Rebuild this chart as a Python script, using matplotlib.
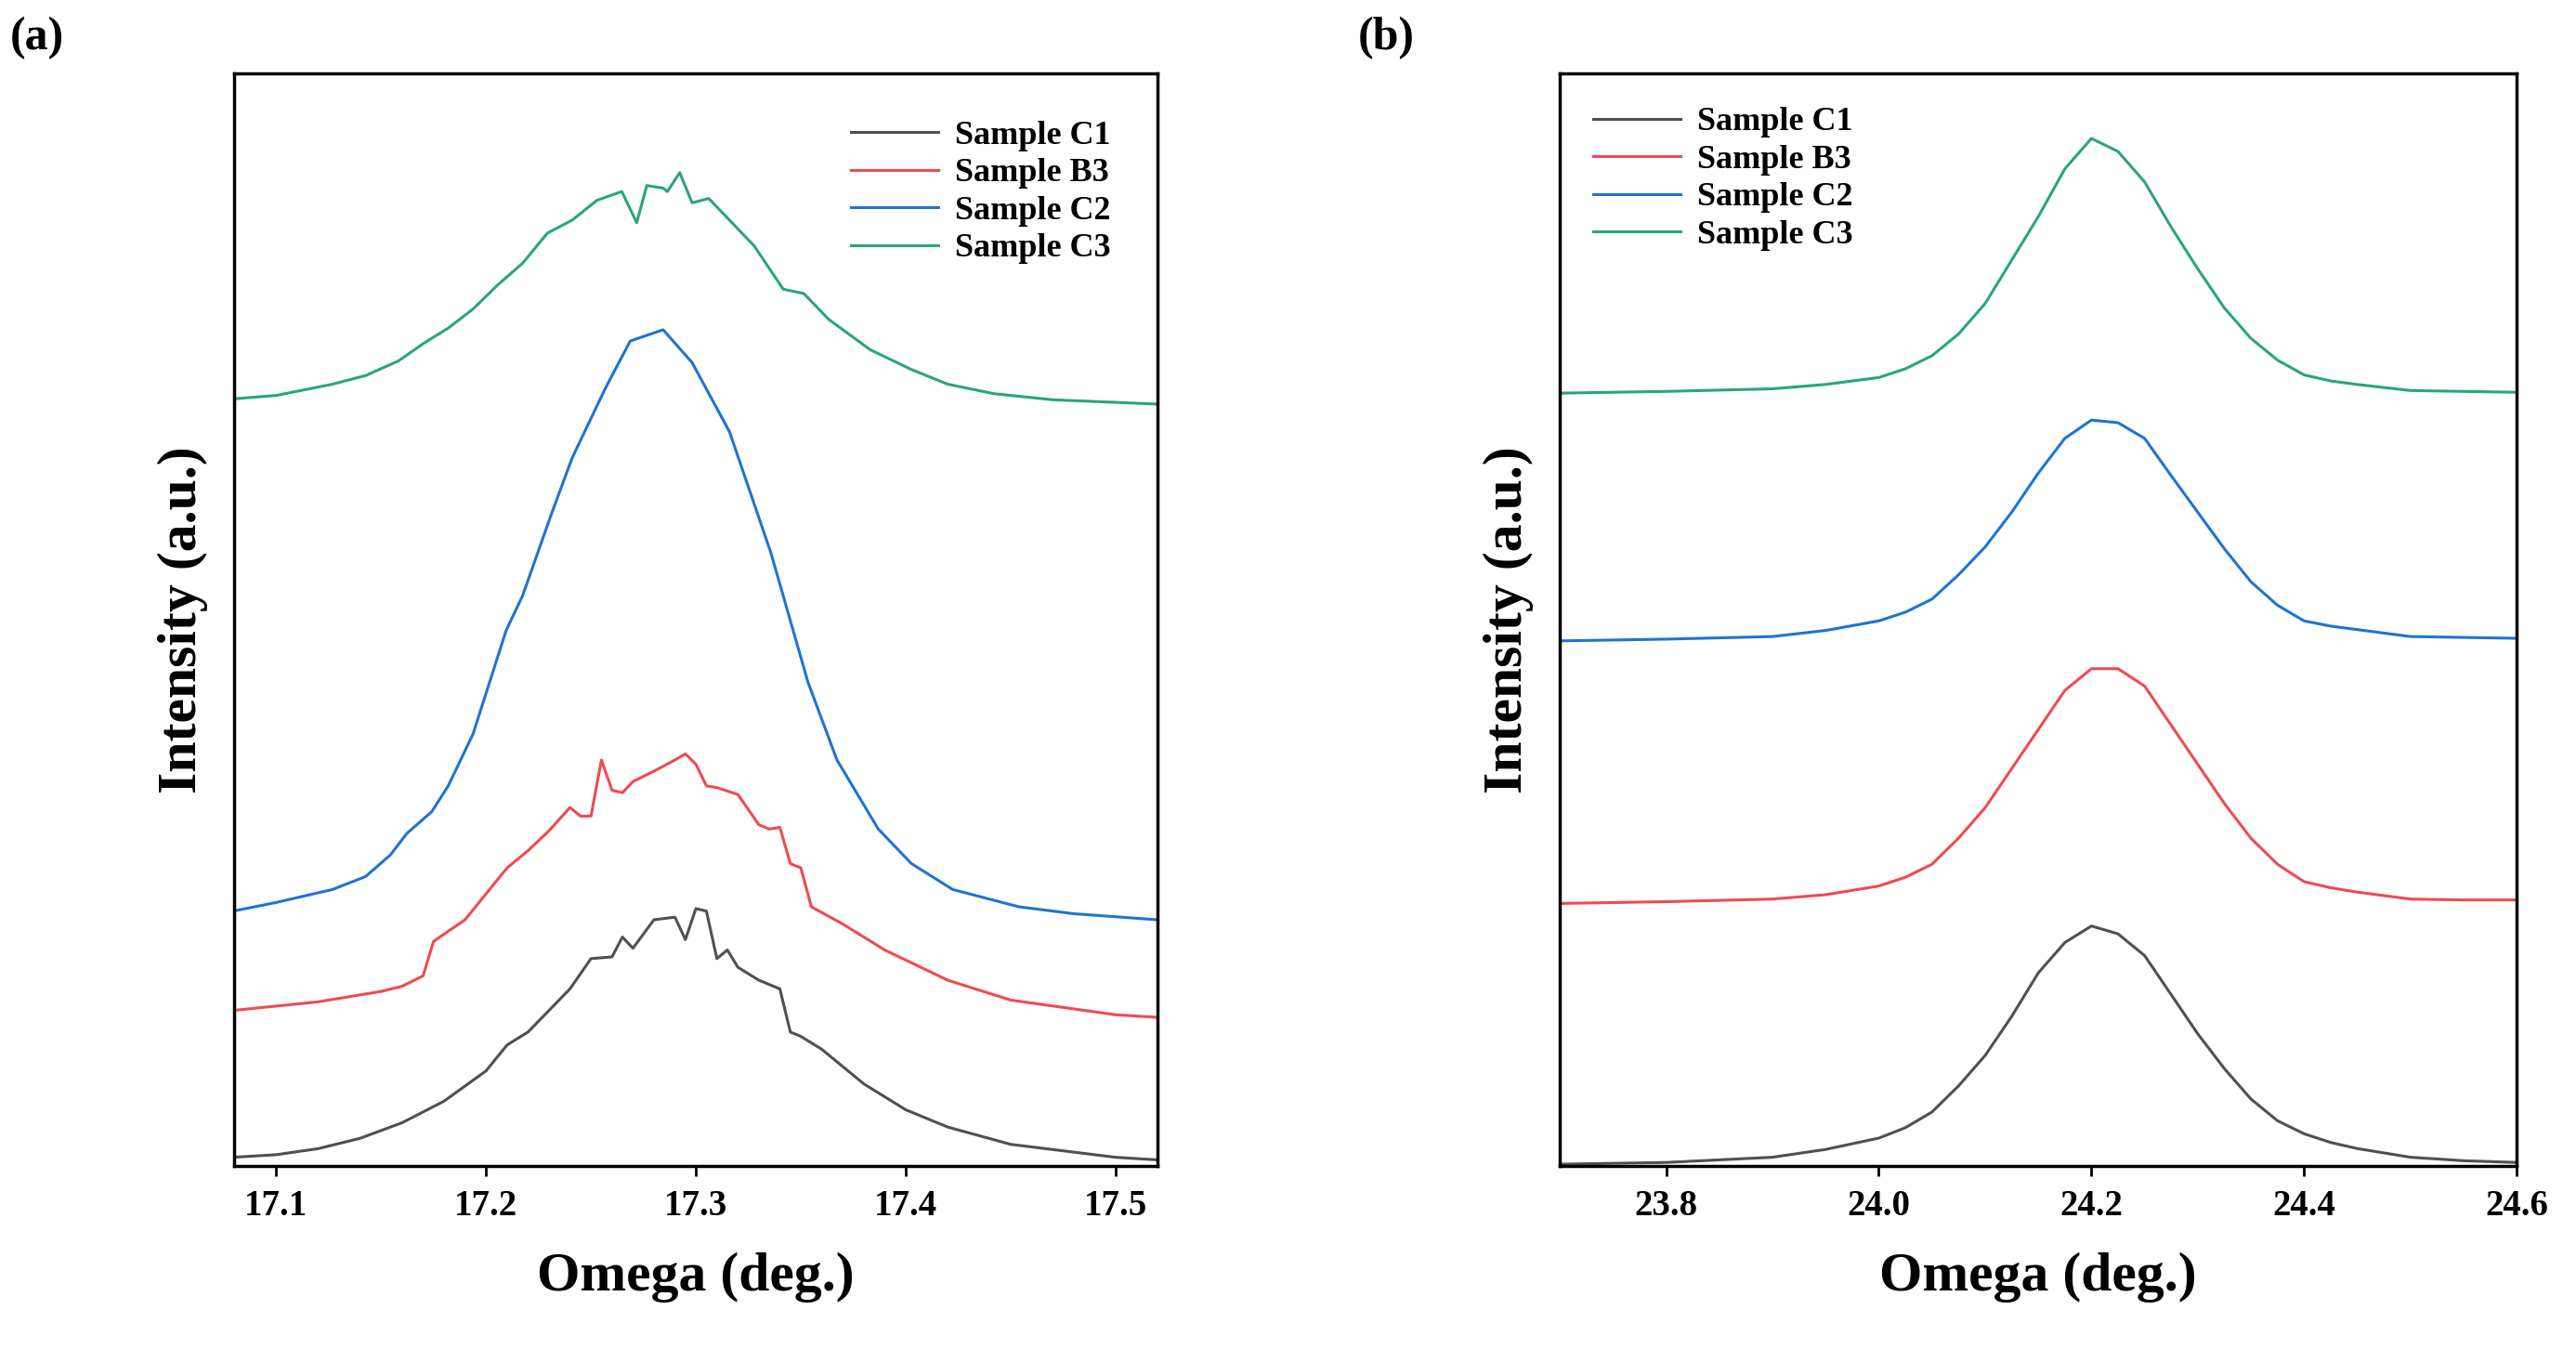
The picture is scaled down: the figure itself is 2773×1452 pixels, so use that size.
import numpy as np
import matplotlib
matplotlib.use("Agg")
import matplotlib.pyplot as plt

plt.rcParams["font.family"] = ["Liberation Serif", "DejaVu Serif"]
plt.rcParams["font.weight"] = "bold"

labels = ["Sample C1", "Sample B3", "Sample C2", "Sample C3"]
colors = ["#505050", "#f04a50", "#1f74d0", "#2aa57a"]

a_c1_x = [17.0795, 17.1, 17.12, 17.14, 17.16, 17.18, 17.2, 17.21, 17.22, 17.23, 17.24, 17.25, 17.26, 17.265,
          17.27, 17.28, 17.29, 17.295, 17.30, 17.305, 17.31, 17.315, 17.32, 17.33, 17.34, 17.345, 17.35, 17.36,
          17.38, 17.40, 17.42, 17.45, 17.5, 17.52]
a_c1_y = [1340, 1337, 1330, 1318, 1300, 1275, 1240, 1210, 1195, 1170, 1145, 1110, 1108, 1085,
          1098, 1065, 1062, 1088, 1052, 1055, 1110, 1100, 1120, 1135, 1145, 1195, 1200, 1215,
          1255, 1285, 1305, 1325, 1340, 1343]
a_b3_x = [17.0795, 17.12, 17.15, 17.16, 17.17, 17.175, 17.19, 17.2, 17.21, 17.22, 17.23, 17.24, 17.245, 17.25,
          17.255, 17.26, 17.265, 17.27, 17.28, 17.29, 17.295, 17.30, 17.305, 17.31, 17.32, 17.33, 17.335, 17.34,
          17.345, 17.35, 17.355, 17.37, 17.39, 17.42, 17.45, 17.5, 17.52]
a_b3_y = [1170, 1160, 1148, 1142, 1130, 1090, 1065, 1035, 1005, 985, 962, 935, 945, 945,
          880, 915, 918, 905, 893, 880, 873, 885, 910, 912, 920, 955, 960, 958,
          1000, 1005, 1050, 1070, 1100, 1135, 1158, 1175, 1178]
a_c2_x = [17.0795, 17.1, 17.1268, 17.1426, 17.1544, 17.1623, 17.1741, 17.182, 17.1938, 17.2017, 17.2096,
          17.2174, 17.2312, 17.2411, 17.2568, 17.2687, 17.2844, 17.2982, 17.316, 17.3357, 17.3534, 17.3672,
          17.3869, 17.4027, 17.4224, 17.4539, 17.48, 17.5197]
a_c2_y = [1055, 1045, 1030, 1015, 990, 965, 940, 910, 850, 790, 730, 690, 595, 530, 450, 395, 382, 420,
          500, 640, 790, 880, 960, 1000, 1030, 1050, 1058, 1065]
a_c3_x = [17.0795, 17.1, 17.1268, 17.1426, 17.1583, 17.1701, 17.182, 17.1938, 17.2056, 17.2174, 17.2293,
          17.2411, 17.2529, 17.2647, 17.2718, 17.2766, 17.2844, 17.2864, 17.2923, 17.2982, 17.3061, 17.316,
          17.3278, 17.3416, 17.3514, 17.3633, 17.383, 17.4027, 17.42, 17.4421, 17.47, 17.5197]
a_c3_y = [462, 458, 445, 435, 418, 398, 380, 358, 330, 305, 270, 255, 232, 222, 258, 215, 218, 222, 200,
          235, 230, 255, 285, 335, 340, 370, 405, 428, 445, 456, 463, 468]

b_x = [23.7, 23.8, 23.9, 23.95, 24.0, 24.025, 24.05, 24.075, 24.1, 24.125, 24.15, 24.175, 24.2, 24.225,
       24.25, 24.275, 24.3, 24.325, 24.35, 24.375, 24.4, 24.425, 24.45, 24.5, 24.55, 24.6]
b_c1_y = [1340, 1338, 1332, 1323, 1310, 1298, 1280, 1250, 1215, 1170, 1120, 1085, 1066, 1075,
          1100, 1145, 1190, 1230, 1265, 1290, 1305, 1315, 1322, 1332, 1336, 1338]
b_b3_y = [1040, 1038, 1035, 1030, 1020, 1010, 995, 965, 930, 885, 840, 795, 770, 770,
          790, 835, 880, 925, 965, 995, 1015, 1022, 1027, 1035, 1036, 1036]
b_c2_y = [738, 736, 733, 726, 715, 705, 690, 662, 630, 590, 545, 505, 484, 487,
          505, 548, 590, 632, 670, 697, 715, 721, 725, 733, 734, 735]
b_c3_y = [453, 451, 448, 443, 435, 425, 410, 385, 350, 300, 250, 195, 160, 175,
          210, 262, 310, 355, 390, 415, 432, 439, 443, 450, 451, 452]

fig = plt.figure(figsize=(27.73, 14.52), dpi=100)
ax1 = fig.add_axes([0.0909, 0.1357, 0.3585, 0.810])
ax2 = fig.add_axes([0.6055, 0.1357, 0.3715, 0.810])

a_sets = [(a_c1_x, a_c1_y), (a_b3_x, a_b3_y), (a_c2_x, a_c2_y), (a_c3_x, a_c3_y)]
for (x, y), lab, c in zip(a_sets, labels, colors):
    ax1.plot(x, 1350 - np.array(y), color=c, lw=2.2, label=lab)
ax1.set_xlim(17.08, 17.52)
ax1.set_ylim(0, 1265)
ax1.set_xticks([17.1, 17.2, 17.3, 17.4, 17.5])

for y, lab, c in zip([b_c1_y, b_b3_y, b_c2_y, b_c3_y], labels, colors):
    ax2.plot(b_x, 1342 - np.array(y), color=c, lw=2.2, label=lab)
ax2.set_xlim(23.7, 24.6)
ax2.set_ylim(0, 1257)
ax2.set_xticks([23.8, 24.0, 24.2, 24.4, 24.6])
ax2.set_xticklabels(["23.8", "24.0", "24.2", "24.4", "24.6"])

for ax in (ax1, ax2):
    ax.set_yticks([])
    for s in ax.spines.values():
        s.set_linewidth(2.5)
    ax.tick_params(axis="x", direction="out", length=8, width=2, labelsize=28, pad=10)
    ax.set_xlabel("Omega (deg.)", fontsize=43, fontweight="bold", labelpad=22)
    ax.set_ylabel("Intensity (a.u.)", fontsize=43, fontweight="bold", labelpad=20)

ax1.legend(loc="upper right", fontsize=26, frameon=False, handlelength=2.6, handletextpad=0.5,
           borderaxespad=1.0, labelspacing=0.2)
ax2.legend(loc="upper left", fontsize=26, frameon=False, handlelength=2.6, handletextpad=0.5,
           borderaxespad=0.6, labelspacing=0.2)

fig.text(0.004, 0.972, "(a)", fontsize=36, fontweight="bold", va="center")
fig.text(0.527, 0.972, "(b)", fontsize=36, fontweight="bold", va="center")

fig.savefig("out.png", dpi=100)
